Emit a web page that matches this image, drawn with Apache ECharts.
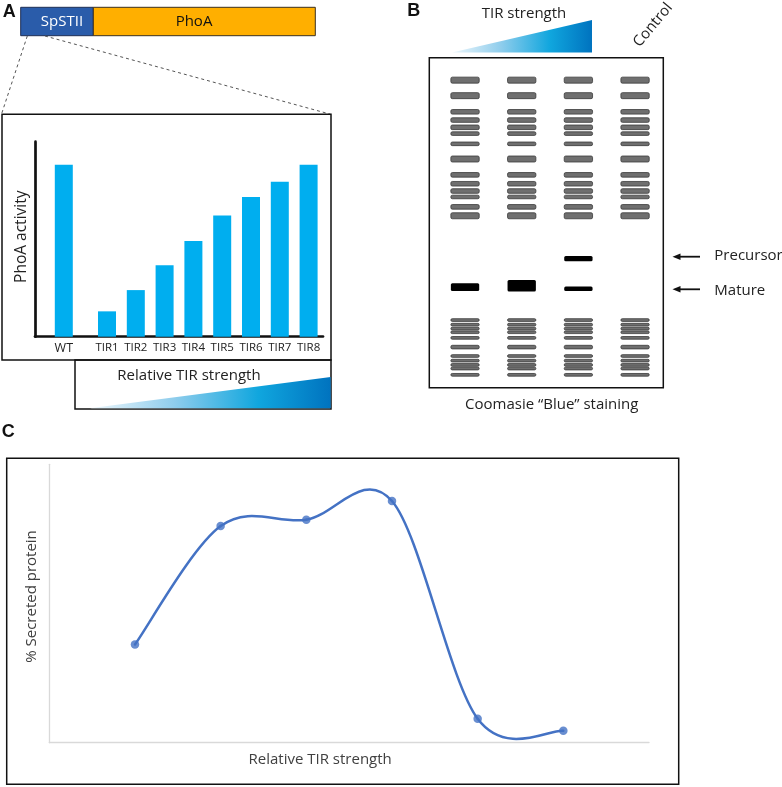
<!DOCTYPE html>
<html>
<head>
<meta charset="utf-8">
<script src="https://cdn.jsdelivr.net/npm/echarts@6/dist/echarts.min.js"></script>
<style>html,body{margin:0;padding:0;background:#fff}#c{width:782px;height:787px}</style>
</head>
<body>
<div id="c"></div>
<script>
// ---------- Panel A: PhoA activity ----------
const phoaCategories = ['WT', 'TIR1', 'TIR2', 'TIR3', 'TIR4', 'TIR5', 'TIR6', 'TIR7', 'TIR8'];
const phoaSlots = [1, 2.5, 3.5, 4.5, 5.5, 6.5, 7.5, 8.5, 9.5];
const phoaActivity = [88.2, 13.0, 23.9, 36.6, 49.1, 62.2, 71.6, 79.5, 88.2];

// ---------- Panel B: gel ----------
const gelLanes = ['TIR low', 'TIR mid', 'TIR high', 'Control'];
const ladderUpperPos = [6.8, 11.5, 16.4, 18.9, 21.1, 23.0, 26.1, 30.7, 35.5, 38.2, 40.4, 42.2, 45.2, 47.9];
const ladderUpperAmount = [3, 3, 2, 2, 2, 1, 1, 3, 2, 2, 2, 1, 2, 3];
const ladderLowerPos = [79.5, 80.9, 82.1, 83.2, 84.9, 87.7, 90.4, 91.8, 93.1, 94.2, 96.1];
const ladderLowerAmount = [0, 0, 0, 0, 0, 1, 0, 0, 0, 0, 0];
const matureLanes = [0, 1, 2];
const maturePos = [69.5, 69.1, 70.0];
const matureAmount = [3, 4, 1];
const precursorLanes = [2];
const precursorPos = [60.9];
const precursorAmount = [2];

// ---------- Panel C: secreted protein ----------
const tirLevels = [1, 2, 3, 4, 5, 6];
const secreted = [35.3, 77.8, 80.1, 86.8, 8.6, 4.3];

// ---------- build data ----------
const ladderData = [];
gelLanes.forEach((_, lane) => {
  ladderUpperPos.forEach((p, i) => ladderData.push([lane, p, ladderUpperAmount[i]]));
  ladderLowerPos.forEach((p, i) => ladderData.push([lane, p, ladderLowerAmount[i]]));
});
const matureData = matureLanes.map((l, i) => [l, maturePos[i], matureAmount[i]]);
const precursorData = precursorLanes.map((l, i) => [l, precursorPos[i], precursorAmount[i]]);
const secretedData = tirLevels.map((x, i) => [x, secreted[i]]);

const FONT = "'Open Sans', sans-serif";
const ladderThick = {0: 2.7, 1: 3.6, 2: 4.6, 3: 6};
const sampleThick = {1: 4.4, 2: 5.3, 3: 7.7, 4: 11.6};
const LINE_BLUE = '#4472C4';

function bandRenderer(thickMap, fill, stroke) {
  return function (params, api) {
    const c = api.coord([api.value(0), api.value(1)]);
    const w = api.size([0.5, 0])[0];
    const h = thickMap[api.value(2)];
    return {
      type: 'rect',
      shape: {x: c[0] - w / 2, y: c[1] - h / 2, width: w, height: h, r: 1.5},
      style: {fill: fill, stroke: stroke, lineWidth: stroke ? 0.8 : 0}
    };
  };
}

// Spreadsheet-style smoothed line: Catmull-Rom segments between data points
function splineRenderer(params, api) {
  const n = params.dataInsideLength;
  const i = params.dataIndexInside;
  if (i >= n - 1) return null;
  const pt = j => {
    j = Math.max(0, Math.min(n - 1, j));
    return api.coord([api.value(0, j), api.value(1, j)]);
  };
  const p0 = pt(i - 1), p1 = pt(i), p2 = pt(i + 1), p3 = pt(i + 2);
  return {
    type: 'bezierCurve',
    shape: {
      x1: p1[0], y1: p1[1], x2: p2[0], y2: p2[1],
      cpx1: p1[0] + (p2[0] - p0[0]) / 6, cpy1: p1[1] + (p2[1] - p0[1]) / 6,
      cpx2: p2[0] - (p3[0] - p1[0]) / 6, cpy2: p2[1] - (p3[1] - p1[1]) / 6
    },
    style: {stroke: LINE_BLUE, lineWidth: 2.5, fill: null, lineCap: 'round'}
  };
}

function grad() {
  return new echarts.graphic.LinearGradient(0, 0, 1, 0, [
    {offset: 0, color: '#eef7fc'},
    {offset: 0.35, color: '#8fcdec'},
    {offset: 0.7, color: '#10a6de'},
    {offset: 1, color: '#0073bf'}
  ]);
}

const chart = echarts.init(document.getElementById('c'), null, {renderer: 'canvas'});

const option = {
  animation: false,
  backgroundColor: '#fff',
  grid: [
    {left: 35, top: 141.7, width: 288, height: 195, containLabel: false, outerBoundsMode: 'none'},
    {left: 436.7, top: 57.7, width: 226.7, height: 330, containLabel: false, outerBoundsMode: 'none'},
    {left: 49.3, top: 464.3, width: 599.7, height: 278.4, containLabel: false, outerBoundsMode: 'none'}
  ],
  xAxis: [
    {
      gridIndex: 0, type: 'value', min: 0, max: 10, interval: 0.5,
      axisLine: {show: true, lineStyle: {color: '#111', width: 2.7}},
      axisTick: {show: false}, splitLine: {show: false},
      axisLabel: {
        margin: 5, fontSize: 11.5, color: '#222', fontFamily: FONT,
        formatter: function (v) {
          const idx = phoaSlots.indexOf(v);
          if (idx < 0) return '';
          return idx === 0 ? '{wt|' + phoaCategories[idx] + '}' : phoaCategories[idx];
        },
        rich: {wt: {fontSize: 12.5, color: '#222', fontFamily: FONT}}
      }
    },
    {gridIndex: 1, type: 'value', min: -0.5, max: 3.5, show: false},
    {
      gridIndex: 2, type: 'value', min: 0, max: 7,
      axisLine: {show: true, lineStyle: {color: '#d9d9d9', width: 1.3}},
      axisTick: {show: false}, axisLabel: {show: false}, splitLine: {show: false},
      name: 'Relative TIR strength', nameLocation: 'middle', nameGap: 10,
      nameTextStyle: {fontSize: 15, color: '#404040', fontFamily: FONT, padding: [0, 58, 0, 0]}
    }
  ],
  yAxis: [
    {
      gridIndex: 0, type: 'value', min: 0, max: 100,
      axisLine: {show: true, lineStyle: {color: '#111', width: 2.7}},
      axisTick: {show: false}, axisLabel: {show: false}, splitLine: {show: false},
      name: 'PhoA activity', nameLocation: 'middle', nameGap: 5.5,
      nameTextStyle: {fontSize: 15.5, color: '#222', fontFamily: FONT, padding: [0, 0, 0, 5]}
    },
    {gridIndex: 1, type: 'value', min: 0, max: 100, inverse: true, show: false},
    {
      gridIndex: 2, type: 'value', min: 0, max: 100,
      axisLine: {show: true, lineStyle: {color: '#d9d9d9', width: 1.3}},
      axisTick: {show: false}, axisLabel: {show: false}, splitLine: {show: false},
      name: '% Secreted protein', nameLocation: 'middle', nameGap: 10.5,
      nameTextStyle: {fontSize: 15, color: '#404040', fontFamily: FONT, padding: [0, 0, 0, 14]}
    }
  ],
  series: [
    {
      name: 'PhoA activity', type: 'bar', xAxisIndex: 0, yAxisIndex: 0,
      barWidth: 18,
      itemStyle: {color: '#00AEEF'},
      data: phoaSlots.map((s, i) => [s, phoaActivity[i]])
    },
    {
      name: 'Ladder', type: 'custom', xAxisIndex: 1, yAxisIndex: 1,
      encode: {x: 0, y: 1},
      renderItem: bandRenderer(ladderThick, '#6f6f6f', '#3a3a3a'),
      data: ladderData
    },
    {
      name: 'Precursor', type: 'custom', xAxisIndex: 1, yAxisIndex: 1,
      encode: {x: 0, y: 1},
      renderItem: bandRenderer(sampleThick, '#000', null),
      data: precursorData
    },
    {
      name: 'Mature', type: 'custom', xAxisIndex: 1, yAxisIndex: 1,
      encode: {x: 0, y: 1},
      renderItem: bandRenderer(sampleThick, '#000', null),
      data: matureData
    },
    {
      name: '% Secreted protein', type: 'custom', xAxisIndex: 2, yAxisIndex: 2,
      encode: {x: 0, y: 1},
      renderItem: splineRenderer,
      data: secretedData,
      z: 2
    },
    {
      name: '% Secreted protein points', type: 'scatter', xAxisIndex: 2, yAxisIndex: 2,
      symbol: 'circle', symbolSize: 8.5,
      itemStyle: {color: LINE_BLUE},
      data: secretedData,
      z: 3
    }
  ],
  graphic: [
    // Panel letters
    {type: 'text', x: 9.2, y: 11.7, style: {text: 'A', font: "bold 18px 'Liberation Sans', Arial, sans-serif", fill: '#111', align: 'center', verticalAlign: 'middle'}},
    {type: 'text', x: 413.7, y: 11.2, style: {text: 'B', font: "bold 18px 'Liberation Sans', Arial, sans-serif", fill: '#111', align: 'center', verticalAlign: 'middle'}},
    {type: 'text', x: 8.3, y: 431.7, style: {text: 'C', font: "bold 18px 'Liberation Sans', Arial, sans-serif", fill: '#111', align: 'center', verticalAlign: 'middle'}},

    // Panel A construct
    {type: 'rect', shape: {x: 20.7, y: 7.3, width: 72.6, height: 28.4}, style: {fill: '#2A5CAA', stroke: '#1f2f55', lineWidth: 1}},
    {type: 'rect', shape: {x: 93.3, y: 7.3, width: 222, height: 28.4}, style: {fill: '#FFAF00', stroke: '#3a3020', lineWidth: 1}},
    {type: 'text', x: 62, y: 21.5, style: {text: 'SpSTII', font: "15px 'Open Sans', sans-serif", fill: '#fff', align: 'center', verticalAlign: 'middle'}},
    {type: 'text', x: 194, y: 21.5, style: {text: 'PhoA', font: "15px 'Open Sans', sans-serif", fill: '#111', align: 'center', verticalAlign: 'middle'}},
    {type: 'line', shape: {x1: 27.3, y1: 36, x2: 1.7, y2: 113.5}, style: {stroke: '#555', lineWidth: 1, lineDash: [3, 3]}},
    {type: 'line', shape: {x1: 45, y1: 36, x2: 330.7, y2: 114.3}, style: {stroke: '#555', lineWidth: 1, lineDash: [3, 3]}},
    {type: 'rect', shape: {x: 2, y: 114.3, width: 329, height: 245.7}, style: {fill: 'none', stroke: '#111', lineWidth: 1.5}},
    {type: 'rect', shape: {x: 75, y: 360, width: 256, height: 49}, style: {fill: 'none', stroke: '#111', lineWidth: 1.5}},
    {type: 'text', x: 189, y: 375.3, style: {text: 'Relative TIR strength', font: "15px 'Open Sans', sans-serif", fill: '#222', align: 'center', verticalAlign: 'middle'}},
    {type: 'polygon', shape: {points: [[90, 408.3], [330.7, 377], [330.7, 408.3]]}, style: {fill: grad()}},

    // Panel B
    {type: 'text', x: 524, y: 14, style: {text: 'TIR strength', font: "15px 'Open Sans', sans-serif", fill: '#222', align: 'center', verticalAlign: 'middle'}},
    {type: 'polygon', shape: {points: [[452, 52.5], [592, 20], [592, 52.5]]}, style: {fill: grad()}},
    {type: 'text', x: 653, y: 25, rotation: 50 * Math.PI / 180, style: {text: 'Control', font: "15px 'Open Sans', sans-serif", fill: '#222', align: 'center', verticalAlign: 'middle'}},
    {type: 'rect', shape: {x: 429.3, y: 57.7, width: 234, height: 330}, style: {fill: 'none', stroke: '#111', lineWidth: 1.5}},
    {type: 'line', shape: {x1: 679, y1: 256.7, x2: 700, y2: 256.7}, style: {stroke: '#111', lineWidth: 1.8}},
    {type: 'polygon', shape: {points: [[672.5, 256.7], [680.5, 253.5], [680.5, 259.9]]}, style: {fill: '#111'}},
    {type: 'line', shape: {x1: 679, y1: 289.3, x2: 700, y2: 289.3}, style: {stroke: '#111', lineWidth: 1.8}},
    {type: 'polygon', shape: {points: [[672.5, 289.3], [680.5, 286.1], [680.5, 292.5]]}, style: {fill: '#111'}},
    {type: 'text', x: 714.3, y: 256, style: {text: 'Precursor', font: "15px 'Open Sans', sans-serif", fill: '#222', align: 'left', verticalAlign: 'middle'}},
    {type: 'text', x: 714.3, y: 290.7, style: {text: 'Mature', font: "15px 'Open Sans', sans-serif", fill: '#222', align: 'left', verticalAlign: 'middle'}},
    {type: 'text', x: 551.7, y: 404.3, style: {text: 'Coomasie \u201CBlue\u201D staining', font: "15px 'Open Sans', sans-serif", fill: '#222', align: 'center', verticalAlign: 'middle'}},

    // Panel C frame
    {type: 'rect', shape: {x: 6.7, y: 458.3, width: 672, height: 326}, style: {fill: 'none', stroke: '#111', lineWidth: 1.5}}
  ]
};

chart.setOption(option);
</script>
</body>
</html>
